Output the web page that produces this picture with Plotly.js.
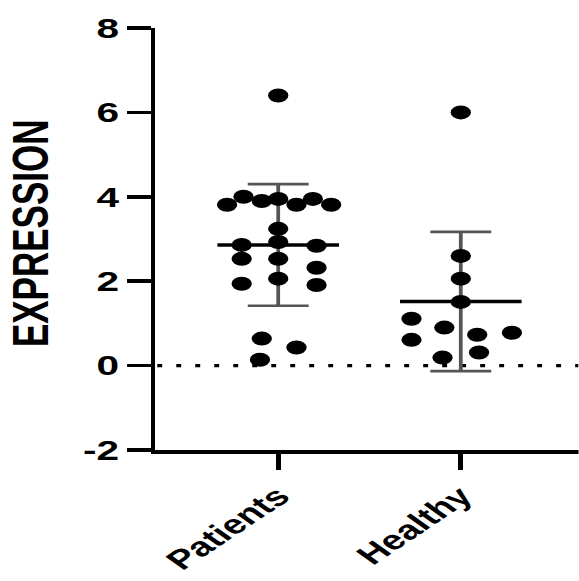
<!DOCTYPE html>
<html>
<head>
<meta charset="utf-8">
<script src="https://cdn.plot.ly/plotly-3.0.1.min.js"></script>
<style>
  html, body { margin: 0; padding: 0; background: #fff; overflow: hidden; }
  #wrap { width: 579px; height: 581px; overflow: hidden; }
  #chart { width: 399px; height: 581px; transform: scaleX(1.45); transform-origin: 0 0; }
</style>
</head>
<body>
<div id="wrap"><div id="chart"></div></div>
<script>
// ---- data ----
const categories = ['Patients', 'Healthy'];

const patientsValues = [6.4, 3.81, 4.0, 3.9, 3.95, 3.81, 3.95, 3.81, 3.24,
  2.86, 2.93, 2.84, 2.53, 2.53, 2.32, 1.94, 2.06, 1.91, 0.64, 0.43, 0.14];
const patientsJitter = [0, -0.28, -0.19, -0.09, 0, 0.1, 0.19, 0.29, 0,
  -0.2, 0, 0.21, -0.2, 0, 0.21, -0.2, 0, 0.21, -0.09, 0.1, -0.1];

const healthyValues = [6.0, 2.6, 2.06, 1.51, 1.11, 0.9, 0.73, 0.78, 0.61, 0.31, 0.19];
const healthyJitter = [0, 0, 0, 0, -0.27, -0.09, 0.09, 0.28, -0.27, 0.1, -0.1];

const groupMeans = [2.86, 1.52];
const groupSDs = [1.44, 1.65];

const yTickVals = [-2, 0, 2, 4, 6, 8];

// ---- build traces ----
const groups = [
  { values: patientsValues, jitter: patientsJitter },
  { values: healthyValues, jitter: healthyJitter }
];
const MEAN_HALF = 0.333;
const FONT = 'Liberation Sans, Arial, sans-serif';

const traces = [];
// error bars (SD)
traces.push({
  type: 'scatter', mode: 'markers',
  x: categories.map((c, i) => i),
  y: groupMeans,
  marker: { size: 0.1, color: 'rgba(0,0,0,0)' },
  error_y: { type: 'data', array: groupSDs, visible: true, color: '#555', thickness: 2.6, width: 21 },
  showlegend: false, hoverinfo: 'skip'
});
// points
groups.forEach((g, i) => {
  traces.push({
    type: 'scatter', mode: 'markers',
    name: categories[i],
    x: g.jitter.map(j => i + j),
    y: g.values,
    marker: { size: 14, color: '#000' },
    showlegend: false
  });
});
// mean lines
groupMeans.forEach((m, i) => {
  traces.push({
    type: 'scatter', mode: 'lines',
    x: [i - MEAN_HALF, i + MEAN_HALF],
    y: [m, m],
    line: { color: '#000', width: 3.5 },
    showlegend: false, hoverinfo: 'skip'
  });
});

const layout = {
  width: 399, height: 581,
  margin: { l: 107, r: 0, t: 28, b: 131 },
  paper_bgcolor: '#fff', plot_bgcolor: '#fff',
  font: { family: FONT, color: '#000' },
  showlegend: false,
  xaxis: {
    range: [-0.674, 1.645],
    tickmode: 'array', tickvals: categories.map((c, i) => i), ticktext: categories,
    tickangle: -44,
    tickfont: { family: FONT, size: 27, color: '#000', weight: 'bold' },
    ticks: 'outside', ticklen: 16, tickwidth: 3.2, tickcolor: '#000',
    showline: true, linecolor: '#000', linewidth: 3.6,
    showgrid: false, zeroline: false
  },
  yaxis: {
    range: [-2, 8],
    tickmode: 'array', tickvals: yTickVals, ticktext: yTickVals.map(String),
    tickfont: { family: FONT, size: 28, color: '#000', weight: 'bold' },
    ticks: 'outside', ticklen: 16, tickwidth: 3.6, tickcolor: '#000',
    showline: true, linecolor: '#000', linewidth: 3.2,
    showgrid: false, zeroline: false
  },
  shapes: [{
    type: 'line', xref: 'paper', yref: 'y',
    x0: 0.005, x1: 1, y0: 0, y1: 0,
    line: { color: '#000', width: 3.3, dash: '3.4px,9.7px' },
    layer: 'below'
  }],
  annotations: [{
    text: 'EXPRESSION', textangle: -90,
    xref: 'paper', yref: 'paper', x: 0, y: 0.514,
    xanchor: 'center', yanchor: 'middle', xshift: -87, showarrow: false,
    font: { family: FONT, size: 35, color: '#000', weight: 'bold' }
  }]
};

Plotly.newPlot('chart', traces, layout, { displayModeBar: false, staticPlot: true });
</script>
</body>
</html>
